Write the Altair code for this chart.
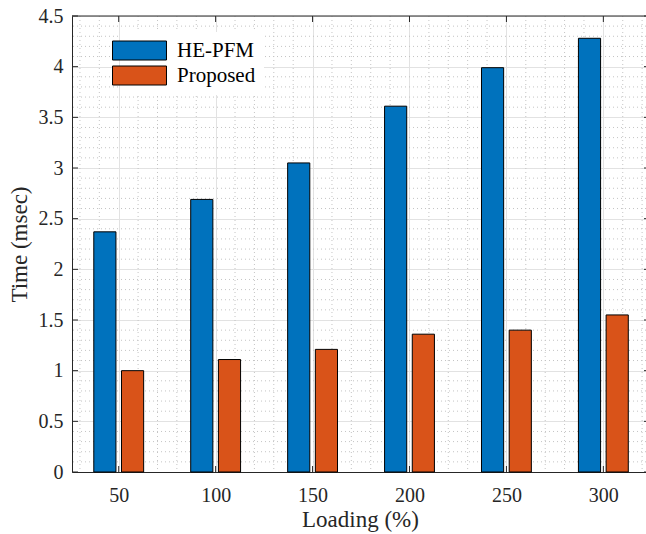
import json
import numpy as np
import pandas as pd
import altair as alt

# ---- data ----
loading = [50, 100, 150, 200, 250, 300]
he_pfm = [2.37, 2.69, 3.05, 3.61, 3.99, 4.28]
proposed = [1.00, 1.11, 1.21, 1.36, 1.40, 1.55]
series_names = ["HE-PFM", "Proposed"]
series_colors = ["#0072BD", "#D95319"]
y_ticks = [0, 0.5, 1, 1.5, 2, 2.5, 3, 3.5, 4, 4.5]

FONT = "Liberation Serif"
TXT = "#262626"
W, H = 574, 456

idx = list(range(1, len(loading) + 1))
bars = pd.DataFrame({
    "idx": idx * 2,
    "loading": loading * 2,
    "series": [series_names[0]] * len(loading) + [series_names[1]] * len(loading),
    "time": he_pfm + proposed,
})

xscale = alt.Scale(domain=[0.518, 6.44], nice=False, zero=False)
yscale = alt.Scale(domain=[0, 4.5], nice=False)

label_expr = json.dumps([str(v) for v in loading]) + "[datum.value - 1]"
common = dict(grid=True, tickSize=0, ticks=False, labelFont=FONT, titleFont=FONT,
              labelColor=TXT, titleColor=TXT, labelFontSize=20, titleFontSize=23,
              titleFontWeight="normal", titleBaseline="alphabetic",
              domainColor=TXT, domainWidth=1, gridColor="#e2e2e2", gridWidth=1)
XAXIS = alt.Axis(values=idx, labelExpr=label_expr, labelPadding=13,
                 titleX=288, titleY=54, **common)
YAXIS = alt.Axis(values=y_ticks, format="~g", labelPadding=9,
                 titleX=-46, titleY=228, **common)
XT = "Loading (%)"
YT = "Time (msec)"


def X(field):
    return alt.X(field, scale=xscale, axis=XAXIS, title=XT)


def Y(field):
    return alt.Y(field, scale=yscale, axis=YAXIS, title=YT)


minor_x = pd.DataFrame({"x": [v for v in np.round(np.arange(0.6, 6.45, 0.2), 2) if abs(v - round(v)) > 1e-6]})
minor_y = pd.DataFrame({"y": [v for v in np.round(np.arange(0.1, 4.5, 0.1), 2) if abs(v * 2 - round(v * 2)) > 1e-6]})
xt = pd.DataFrame({"x": idx})
yt = pd.DataFrame({"y": y_ticks})
one = pd.DataFrame({"a": [0]})

minor_grid_c = "#c4c4c4"
vgrid = alt.Chart(minor_x).mark_rule(color=minor_grid_c, strokeDash=[1, 3], strokeWidth=1).encode(
    x=X("x:Q")
)
hgrid = alt.Chart(minor_y).mark_rule(color=minor_grid_c, strokeDash=[1, 3], strokeWidth=1).encode(
    y=Y("y:Q")
)

bar_layer = alt.Chart(bars).transform_calculate(
    x1="datum.idx + (datum.series == 'HE-PFM' ? -0.1429 : 0.1429) - 0.1143",
    x2="datum.idx + (datum.series == 'HE-PFM' ? -0.1429 : 0.1429) + 0.1143",
).mark_bar(stroke="#000000", strokeWidth=1, opacity=1).encode(
    x=X("x1:Q"),
    x2="x2:Q",
    y=Y("time:Q"),
    y2=alt.datum(0),
    color=alt.Color("series:N", scale=alt.Scale(domain=series_names, range=series_colors),
                    legend=alt.Legend(orient="none", legendX=49, legendY=16, title=None,
                                      symbolType="M-2.842,-1L2.842,-1L2.842,1L-2.842,1Z",
                                      symbolSize=361, symbolStrokeColor="#000000",
                                      symbolStrokeWidth=1, symbolOpacity=1,
                                      labelFont=FONT, labelFontSize=21, labelColor="#000000",
                                      labelOffset=27, rowPadding=2, padding=8,
                                      fillColor="white")),
)

tick_c = TXT
bottom_ticks = alt.Chart(xt).mark_rule(color=tick_c).encode(
    x=X("x:Q"), y=alt.value(H), y2=alt.value(H - 6))
top_ticks = alt.Chart(xt).mark_rule(color=tick_c).encode(
    x=X("x:Q"), y=alt.value(0), y2=alt.value(6))
left_ticks = alt.Chart(yt).mark_rule(color=tick_c).encode(
    y=Y("y:Q"), x=alt.value(0), x2=alt.value(6))
right_ticks = alt.Chart(yt).mark_rule(color=tick_c).encode(
    y=Y("y:Q"), x=alt.value(W - 2), x2=alt.value(W))
top_line = alt.Chart(one).mark_rule(color=tick_c, strokeWidth=1).encode(
    y=alt.value(0), x=alt.value(0), x2=alt.value(W))

chart = alt.layer(vgrid, hgrid, bar_layer, bottom_ticks, top_ticks, left_ticks, right_ticks, top_line).properties(
    width=W, height=H,
    autosize=alt.AutoSizeParams(type="none"),
    padding={"left": 72, "top": 16, "right": 0, "bottom": 62},
    background="white",
).configure_view(stroke=None).configure_axis(
    labelFont=FONT, titleFont=FONT, labelColor=TXT, titleColor=TXT,
).configure(font=FONT)

chart.save("out.html", embed_options={"renderer": "svg", "actions": False})
